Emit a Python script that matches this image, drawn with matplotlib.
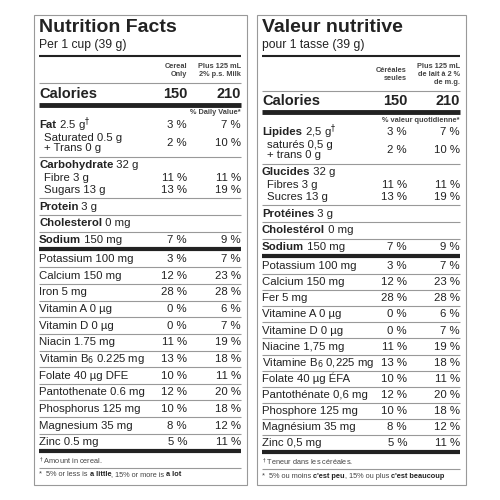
import matplotlib
matplotlib.use("Agg")
import matplotlib.pyplot as plt

plt.rcParams['font.family'] = ['Liberation Sans', 'DejaVu Sans']

# ---- data ----
cal_cereal, cal_milk = 150, 210
macro_en = [("Fat", " 2.5 g$^{\\dagger}$"), ("Saturated 0.5 g\n+ Trans 0 g", ""), ("Carbohydrate", " 32 g"),
            ("Fibre 3 g", ""), ("Sugars 13 g", ""), ("Protein", " 3 g"), ("Cholesterol", " 0 mg"), ("Sodium", " 150 mg")]
macro_fr = [("Lipides", " 2,5 g$^{\\dagger}$"), ("saturés 0,5 g\n+ trans 0 g", ""), ("Glucides", " 32 g"),
            ("Fibres 3 g", ""), ("Sucres 13 g", ""), ("Protéines", " 3 g"), ("Cholestérol", " 0 mg"), ("Sodium", " 150 mg")]
macro_dv_cereal = [3, 2, None, 11, 13, None, None, 7]
macro_dv_milk = [7, 10, None, 11, 19, None, None, 9]
micro_en = ["Potassium 100 mg", "Calcium 150 mg", "Iron 5 mg", "Vitamin A 0 µg", "Vitamin D 0 µg", "Niacin 1.75 mg",
            "Vitamin B$_6$ 0.225 mg", "Folate 40 µg DFE", "Pantothenate 0.6 mg", "Phosphorus 125 mg",
            "Magnesium 35 mg", "Zinc 0.5 mg"]
micro_fr = ["Potassium 100 mg", "Calcium 150 mg", "Fer 5 mg", "Vitamine A 0 µg", "Vitamine D 0 µg", "Niacine 1,75 mg",
            "Vitamine B$_6$ 0,225 mg", "Folate 40 µg ÉFA", "Pantothénate 0,6 mg", "Phosphore 125 mg",
            "Magnésium 35 mg", "Zinc 0,5 mg"]
micro_dv_cereal = [3, 12, 28, 0, 0, 11, 13, 10, 12, 10, 8, 5]
micro_dv_milk = [7, 23, 28, 6, 7, 19, 18, 11, 20, 18, 12, 11]

fig = plt.figure(figsize=(5, 5), dpi=100)
ax = fig.add_axes([0, 0, 1, 1])
ax.set_xlim(0, 500); ax.set_ylim(500, 0); ax.axis('off')
fig.canvas.draw()
TXT = '#222222'
FS = 8.2
B = 3.2  # baseline offset


def rich(x, y, bold, rest, fs=FS):
    t = ax.text(x, y + B, bold, fontsize=fs, fontweight='bold', va='baseline', color=TXT)
    if rest:
        ax.annotate(rest, xy=(x, y + B), xycoords='data', xytext=(0, 0), textcoords='offset points',
                    va='baseline', ha='left', fontsize=fs, color=TXT)
        # shift rest to right end of bold text
        fig.canvas.draw()
        bb = t.get_window_extent()
        ax.texts[-1].set_position((0, 0))
        ax.texts[-1].remove()
        x2 = ax.transData.inverted().transform((bb.x1, 0))[0]
        ax.text(x2, y + B, rest, fontsize=fs, va='baseline', color=TXT)


def num(x, y, s, fs=FS, **kw):
    ax.text(x, y + B, s, fontsize=fs, ha='right', va='baseline', color=TXT, **kw)


def hline(x0, x1, y, lw, c='#999999'):
    ax.plot([x0, x1], [y, y], color=c, lw=lw, solid_capstyle='butt')


def panel(L, R, c1, title, serving, heads, dvtxt, macro, micro, foot1, foot2, ys):
    ax.add_patch(plt.Rectangle((L - 5, 15), R - L + 11, 470, fill=False, ec='#999999', lw=0.8))
    ax.text(L, 28, title, fontsize=14, fontweight='bold', va='center', color=TXT)
    ax.text(L, 45, serving, fontsize=8.7, va='center', color=TXT)
    hline(L, R, 56, 1.5, '#222222')
    ax.text(c1, ys['head'], heads[0], fontsize=5.3, fontweight='bold', ha='right', va='center', color='#444', linespacing=1.2)
    ax.text(R, ys['head'], heads[1], fontsize=5.3, fontweight='bold', ha='right', va='center', color='#444', linespacing=1.2)
    hline(L, R, ys['l1'], 0.8)
    ax.text(L, ys['cal'], "Calories", fontsize=10.5, fontweight='bold', va='center', color=TXT)
    ax.text(c1, ys['cal'], str(cal_cereal), fontsize=10.5, fontweight='bold', ha='right', va='center', color=TXT)
    ax.text(R, ys['cal'], str(cal_milk), fontsize=10.5, fontweight='bold', ha='right', va='center', color=TXT)
    hline(L, R, ys['cal'] + 11, 3.5, '#222222')
    ax.text(R, ys['cal'] + 19, dvtxt, fontsize=5.3, fontweight='bold', ha='right', va='center', color='#444')
    y0 = ys['cal'] + 31
    my = [y0, y0 + 18, y0 + 40, y0 + 53, y0 + 65, y0 + 82, y0 + 98, y0 + 115]
    for i, ((b, r), yy) in enumerate(zip(macro, my)):
        if r == "":
            ax.text(L + 5, yy, b, fontsize=FS, va='center', color=TXT, linespacing=1.1)
        else:
            rich(L, yy, b, r)
        if macro_dv_cereal[i] is not None:
            num(c1, yy, f"{macro_dv_cereal[i]} %")
            num(R, yy, f"{macro_dv_milk[i]} %")
    for yl in [y0 + 32, y0 + 73, y0 + 90, y0 + 107]:
        hline(L, R, yl, 0.8)
    yt = y0 + 124
    hline(L, R, yt, 3, '#222222')
    step = (ys['zinc'] - (yt + 10)) / 11
    for i, name in enumerate(micro):
        yy = yt + 10 + i * step
        ax.text(L, yy + B, name, fontsize=FS, va='baseline', color=TXT)
        num(c1, yy, f"{micro_dv_cereal[i]} %")
        num(R, yy, f"{micro_dv_milk[i]} %")
        if i < 11:
            hline(L, R, yy + step / 2, 0.8)
    hline(L, R, ys['zinc'] + 9, 3, '#222222')
    ax.text(L, ys['zinc'] + 19, foot1, fontsize=5.3, va='center', color='#444')
    hline(L, R, ys['zinc'] + 26, 0.8)
    t = ax.text(L, ys['zinc'] + 33, foot2[0], fontsize=5.3, va='center', color='#444')
    for k, part in enumerate(foot2[1:]):
        t = ax.annotate(part, xy=(1, 0.5), xycoords=t, va='center', fontsize=5.3, color='#222' if k % 2 == 0 else '#444',
                        fontweight='bold' if k % 2 == 0 else 'normal')


panel(39, 241, 187, "Nutrition Facts", "Per 1 cup (39 g)", ("Cereal\nOnly", "Plus 125 mL\n2% p.s. Milk"),
      "% Daily Value*", macro_en, micro_en, "$^{\\dagger}$ Amount in cereal.",
      ["*  5% or less is ", "a little", ", 15% or more is ", "a lot"],
      dict(head=70, l1=83, cal=94, zinc=442))
panel(262, 460, 407, "Valeur nutritive", "pour 1 tasse (39 g)", ("Céréales\nseules", "Plus 125 mL\nde lait à 2 %\nde m.g."),
      "% valeur quotidienne*", macro_fr, micro_fr, "$^{\\dagger}$ Teneur dans les céréales.",
      ["*  5% ou moins ", "c'est peu", ", 15% ou plus ", "c'est beaucoup"],
      dict(head=74, l1=91, cal=101, zinc=443))

fig.savefig("out.png", dpi=100, facecolor='white')
